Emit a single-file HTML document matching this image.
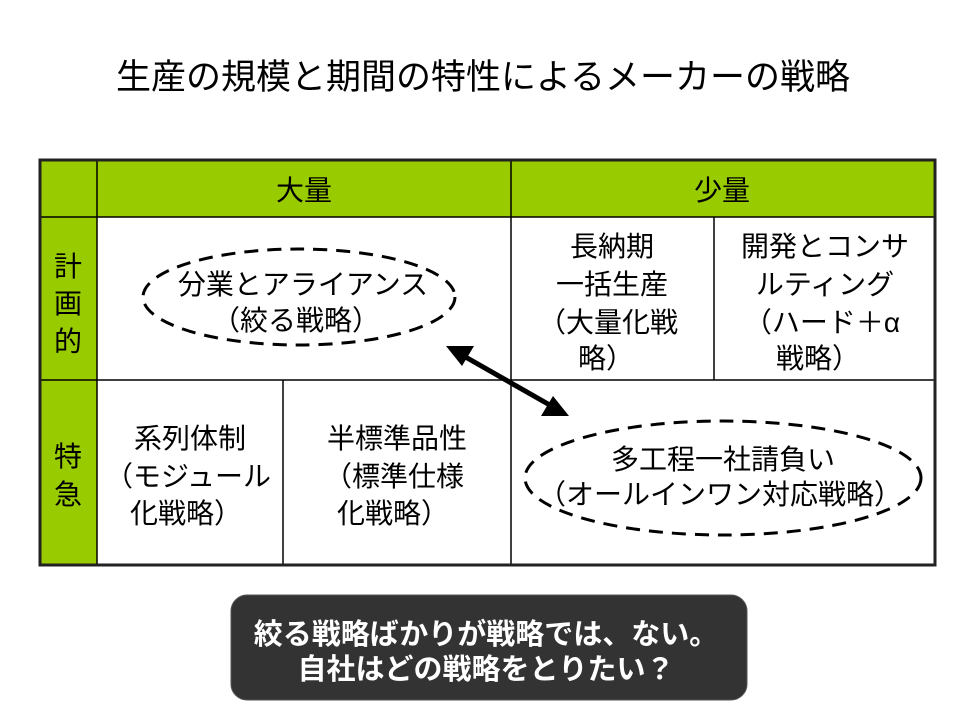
<!DOCTYPE html>
<html><head><meta charset="utf-8"><style>
html,body{margin:0;padding:0;background:#fff;}
svg text{font-family:"Liberation Sans","Noto Sans CJK JP",sans-serif;}
</style></head><body>
<svg width="960" height="720" viewBox="0 0 960 720" xmlns="http://www.w3.org/2000/svg">
<rect width="960" height="720" fill="#fff"/>
<text x="483" y="89" font-size="35" text-anchor="middle" fill="#000">生産の規模と期間の特性によるメーカーの戦略</text>
<rect x="40" y="160" width="895" height="57" fill="#99cc00"/>
<rect x="40" y="160" width="57" height="405" fill="#99cc00"/>
<g stroke="#000" stroke-width="1.5" fill="none">
<line x1="40" y1="217" x2="935" y2="217"/>
<line x1="40" y1="380" x2="935" y2="380"/>
<line x1="97" y1="160" x2="97" y2="565"/>
<line x1="511" y1="160" x2="511" y2="565"/>
<line x1="714" y1="217" x2="714" y2="380"/>
<line x1="283" y1="380" x2="283" y2="565"/>
</g>
<rect x="40" y="160" width="895" height="405" fill="none" stroke="#222" stroke-width="3"/>
<g font-size="28" text-anchor="middle" fill="#000">
<text x="304" y="200">大量</text>
<text x="722" y="200">少量</text>
<text x="68" y="276">計</text><text x="68" y="313">画</text><text x="68" y="351">的</text>
<text x="68" y="466">特</text><text x="68" y="504">急</text>
<text x="303" y="294">分業とアライアンス</text>
<text x="296" y="330">（絞る戦略）</text>
<text x="612" y="256">長納期</text>
<text x="612" y="294">一括生産</text>
<text x="608" y="332">（大量化戦</text>
<text x="606" y="368">略）</text>
<text x="825" y="256">開発とコンサ</text>
<text x="822" y="332">（ハード＋α</text>
<text x="825" y="294">ルティング</text>
<text x="818" y="368">戦略）</text>
<text x="190" y="448">系列体制</text>
<text x="188" y="486">（モジュール</text>
<text x="186" y="523">化戦略）</text>
<text x="397" y="448">半標準品性</text>
<text x="394" y="486">（標準仕様</text>
<text x="393" y="523">化戦略）</text>
<text x="723" y="469">多工程一社請負い</text>
<text x="720" y="504">（オールインワン対応戦略）</text>
</g>
<ellipse cx="299" cy="297" rx="156" ry="48" fill="none" stroke="#000" stroke-width="3" stroke-dasharray="14,9"/>
<ellipse cx="723" cy="478" rx="198" ry="57" fill="none" stroke="#000" stroke-width="3" stroke-dasharray="14,9"/>
<line x1="462" y1="355" x2="555" y2="408" stroke="#000" stroke-width="5"/>
<polygon points="446,346 474,346 462,366" fill="#000"/>
<polygon points="569,416 541,416 553,396" fill="#000"/>
<rect x="231" y="595" width="516" height="105" rx="16" fill="#333" stroke="#555" stroke-width="1"/>
<g font-size="29" font-weight="bold" text-anchor="middle" fill="#fff">
<text x="486" y="644">絞る戦略ばかりが戦略では、ない。</text>
<text x="486" y="679">自社はどの戦略をとりたい？</text>
</g>
</svg>
</body></html>
